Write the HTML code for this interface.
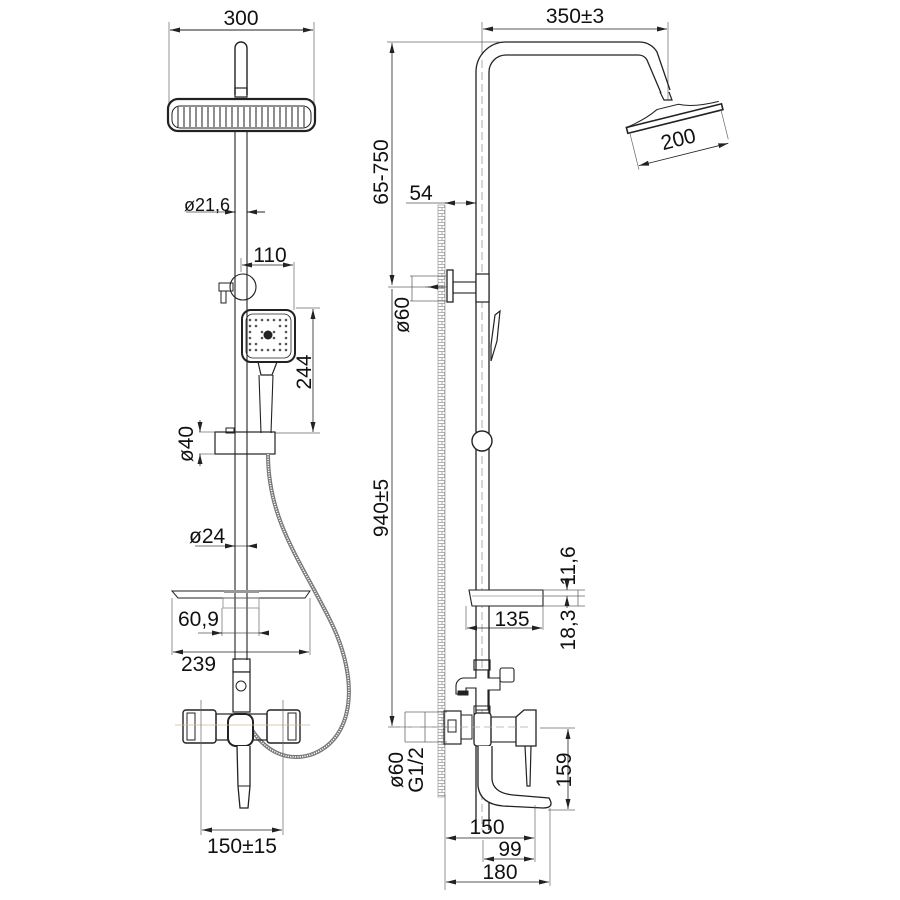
<!DOCTYPE html>
<html><head><meta charset="utf-8"><style>
html,body{margin:0;padding:0;background:#fff;}
svg{display:block;}
text{font-family:"Liberation Sans",sans-serif;fill:#111;}
</style></head><body>
<svg width="900" height="900" viewBox="0 0 900 900" xmlns="http://www.w3.org/2000/svg">
<defs>
<marker id="a" markerWidth="10" markerHeight="6" refX="10" refY="3" orient="auto-start-reverse" markerUnits="userSpaceOnUse"><path d="M0,0.5 L10,3 L0,5.5z" fill="#222"/></marker>
<pattern id="brick" width="7" height="6" patternUnits="userSpaceOnUse"><rect width="7" height="6" fill="#fff"/><path d="M0,0.5H7M3.5,0.5V3.5M0,3.5H7M1,3.5V6" stroke="#999" stroke-width="0.8" fill="none"/></pattern>
</defs>
<g stroke="#222" fill="none" stroke-width="1">
<!-- ============ LEFT VIEW ============ -->
<line x1="169" y1="22" x2="169" y2="104" stroke="#666" stroke-width="0.7"/>
<line x1="314" y1="22" x2="314" y2="104" stroke="#666" stroke-width="0.7"/>
<line x1="170" y1="30" x2="313" y2="30" marker-start="url(#a)" marker-end="url(#a)"/>
<path d="M235,95 V48 a6,6 0 0 1 12,0 V95" stroke-width="1.4"/>
<rect x="235" y="88" width="12" height="9" stroke-width="1.2"/>
<rect x="168" y="99" width="147" height="32" rx="10" stroke-width="2.2"/>
<rect x="172" y="106" width="139" height="22" rx="8" stroke-width="1"/>
<g stroke="#333" stroke-width="1.1">
<path d="M178,107v20M184,107v20M190,107v20M196,107v20M202,107v20M208,107v20M214,107v20M220,107v20M226,107v20M232,107v20M238,107v20M244,107v20M250,107v20M256,107v20M262,107v20M268,107v20M274,107v20M280,107v20M286,107v20M292,107v20M298,107v20M304,107v20"/>
</g>
<line x1="235" y1="131" x2="235" y2="660" stroke-width="1.1"/>
<line x1="247" y1="131" x2="247" y2="660" stroke-width="1.1"/>
<line x1="186" y1="212" x2="236" y2="212" stroke="#444" stroke-width="0.8"/>
<line x1="226" y1="212" x2="235" y2="212" marker-end="url(#a)"/>
<line x1="265" y1="212" x2="247" y2="212" marker-end="url(#a)"/>
<line x1="241" y1="258" x2="241" y2="272" stroke="#666" stroke-width="0.7"/>
<line x1="294" y1="262" x2="294" y2="310" stroke="#666" stroke-width="0.7"/>
<line x1="242" y1="265" x2="293" y2="265" marker-start="url(#a)" marker-end="url(#a)" stroke-width="0.8"/>
<circle cx="243" cy="287" r="13" stroke-width="1.1"/>
<rect x="219" y="283" width="14" height="8"/>
<rect x="221" y="291" width="5" height="12"/>
<rect x="242" y="310" width="53" height="52" rx="9" stroke-width="2"/>
<rect x="246" y="314" width="45" height="44" rx="7" stroke-width="0.8"/>
<g fill="#555" stroke="none">
<circle cx="250" cy="320" r="1.3"/><circle cx="256" cy="320" r="1.3"/><circle cx="262" cy="320" r="1.3"/><circle cx="268" cy="320" r="1.3"/><circle cx="274" cy="320" r="1.3"/><circle cx="280" cy="320" r="1.3"/><circle cx="286" cy="320" r="1.3"/>
<circle cx="250" cy="326" r="1.3"/><circle cx="256" cy="326" r="1.3"/><circle cx="280" cy="326" r="1.3"/><circle cx="286" cy="326" r="1.3"/>
<circle cx="250" cy="344" r="1.3"/><circle cx="256" cy="344" r="1.3"/><circle cx="280" cy="344" r="1.3"/><circle cx="286" cy="344" r="1.3"/>
<circle cx="250" cy="350" r="1.3"/><circle cx="256" cy="350" r="1.3"/><circle cx="262" cy="350" r="1.3"/><circle cx="268" cy="350" r="1.3"/><circle cx="274" cy="350" r="1.3"/><circle cx="280" cy="350" r="1.3"/><circle cx="286" cy="350" r="1.3"/>
<circle cx="250" cy="338" r="1.3"/><circle cx="250" cy="332" r="1.3"/><circle cx="286" cy="338" r="1.3"/><circle cx="286" cy="332" r="1.3"/>
<circle cx="262" cy="332" r="1.3"/><circle cx="274" cy="332" r="1.3"/><circle cx="262" cy="338" r="1.3"/><circle cx="274" cy="338" r="1.3"/>
<circle cx="268" cy="335" r="4.5" fill="#222"/>
</g>
<path d="M258,362 l3,13 h11 l5,-13" stroke-width="1.2"/>
<path d="M259,375 l2,58 M273,375 l-2,58" stroke-width="1.1"/>
<line x1="296" y1="308" x2="320" y2="308" stroke="#666" stroke-width="0.7"/>
<line x1="275" y1="433" x2="320" y2="433" stroke="#666" stroke-width="0.7"/>
<line x1="313" y1="309" x2="313" y2="432" marker-start="url(#a)" marker-end="url(#a)" stroke-width="0.8"/>
<rect x="215" y="432" width="60" height="22" stroke-width="1.2"/>
<rect x="226" y="428" width="8" height="5"/>
<line x1="199" y1="432" x2="215" y2="432" stroke="#666" stroke-width="0.7"/>
<line x1="199" y1="454" x2="215" y2="454" stroke="#666" stroke-width="0.7"/>
<line x1="200" y1="420" x2="200" y2="432" marker-end="url(#a)" stroke-width="0.8"/>
<line x1="200" y1="466" x2="200" y2="454" marker-end="url(#a)" stroke-width="0.8"/>
<path d="M268,454 C268,520 300,560 330,620 C360,680 355,740 310,755 C285,762 265,750 252,730" stroke="#777" stroke-width="4"/>
<path d="M268,454 C268,520 300,560 330,620 C360,680 355,740 310,755 C285,762 265,750 252,730" stroke="#fff" stroke-width="1.6" stroke-dasharray="1.2 1.2"/>
<line x1="195" y1="546" x2="256" y2="546" stroke="#444" stroke-width="0.8"/>
<line x1="225" y1="546" x2="235" y2="546" marker-end="url(#a)"/>
<line x1="256" y1="546" x2="247" y2="546" marker-end="url(#a)"/>
<path d="M172,591 H310 L305,598 H178 Z" stroke-width="1"/>
<rect x="224" y="590" width="35" height="3" fill="#999" stroke="none"/>
<rect x="223" y="598" width="36" height="10" stroke="#777" stroke-width="0.7"/>
<line x1="172" y1="598" x2="172" y2="655" stroke="#666" stroke-width="0.7"/>
<line x1="310" y1="598" x2="310" y2="655" stroke="#666" stroke-width="0.7"/>
<line x1="222" y1="608" x2="222" y2="636" stroke="#666" stroke-width="0.7"/>
<line x1="259" y1="608" x2="259" y2="636" stroke="#666" stroke-width="0.7"/>
<line x1="198" y1="633" x2="259" y2="633" stroke="#555" stroke-width="0.7"/>
<line x1="212" y1="633" x2="222" y2="633" marker-end="url(#a)"/>
<line x1="269" y1="633" x2="259" y2="633" marker-end="url(#a)"/>
<line x1="173" y1="652" x2="309" y2="652" marker-start="url(#a)" marker-end="url(#a)" stroke-width="0.8"/>
<rect x="233" y="659" width="17" height="13" stroke-width="1.2"/>
<rect x="233" y="672" width="17" height="40" fill="#fff" stroke-width="1.2"/>
<circle cx="241" cy="686" r="5"/>
<rect x="183" y="710" width="33" height="33" rx="3" stroke-width="1.4"/>
<rect x="187" y="713" width="8" height="27"/>
<rect x="267" y="710" width="33" height="33" rx="3" stroke-width="1.4"/>
<rect x="288" y="713" width="8" height="27"/>
<rect x="216" y="714" width="51" height="26" stroke-width="1.2"/>
<rect x="228" y="714" width="25" height="32" rx="8" fill="#fff" stroke-width="2"/>
<path d="M237,746 l1,40 l2,22 h8 l2,-22 v-40" fill="#fff" stroke-width="1.3"/>
<line x1="238" y1="786" x2="250" y2="786"/>
<line x1="175" y1="725" x2="310" y2="725" stroke="#d8b89a" stroke-width="0.8"/>
<line x1="201" y1="700" x2="201" y2="835" stroke="#666" stroke-width="0.7"/>
<line x1="283" y1="700" x2="283" y2="835" stroke="#666" stroke-width="0.7"/>
<line x1="202" y1="830" x2="282" y2="830" marker-start="url(#a)" marker-end="url(#a)" stroke-width="0.8"/>

<!-- ============ RIGHT VIEW ============ -->
<line x1="482" y1="22" x2="482" y2="55" stroke="#666" stroke-width="0.7"/>
<line x1="668" y1="22" x2="668" y2="100" stroke="#666" stroke-width="0.7"/>
<line x1="483" y1="29" x2="667" y2="29" marker-start="url(#a)" marker-end="url(#a)" stroke-width="0.8"/>
<path d="M476,830 V72 a30,30 0 0 1 30,-30 H640 a20,20 0 0 1 17,10 L670,90" stroke-width="1.3"/>
<path d="M489,830 V72 a17,17 0 0 1 17,-17 H638 a10,10 0 0 1 9,5 L661,93" stroke-width="1.3"/>
<line x1="482" y1="60" x2="482" y2="830" stroke="#888" stroke-width="0.7" stroke-dasharray="8 4"/>
<path d="M660,92 l4,8 h8 l-3,-8" stroke-width="1.2"/>
<g transform="translate(672,112) rotate(-14)">
<path d="M-48,4 q20,-3 34,-10 h22 q14,7 40,7" stroke-width="1"/>
<rect x="-48" y="4" width="98" height="6" stroke-width="1.6"/>
<line x1="-46" y1="10" x2="-46" y2="48" stroke="#666" stroke-width="0.7"/>
<line x1="48" y1="10" x2="48" y2="40" stroke="#666" stroke-width="0.7"/>
<line x1="-45" y1="44" x2="47" y2="44" marker-start="url(#a)" marker-end="url(#a)" stroke-width="0.8"/>
</g>
<line x1="387" y1="42" x2="500" y2="42" stroke="#666" stroke-width="0.7"/>
<line x1="392" y1="43" x2="392" y2="285" marker-start="url(#a)" marker-end="url(#a)" stroke-width="0.8"/>
<line x1="388" y1="287" x2="447" y2="287" stroke="#666" stroke-width="0.7"/>
<line x1="392" y1="289" x2="392" y2="726" marker-end="url(#a)" stroke-width="0.8"/>
<line x1="388" y1="727" x2="447" y2="727" stroke="#666" stroke-width="0.7"/>
<line x1="406" y1="203" x2="476" y2="203" stroke="#555" stroke-width="0.7"/>
<line x1="455" y1="203" x2="445" y2="203" marker-end="url(#a)"/>
<line x1="466" y1="203" x2="476" y2="203" marker-end="url(#a)"/>
<rect x="438" y="205" width="7" height="592" fill="url(#brick)" stroke="#999" stroke-width="0.7"/>
<line x1="445" y1="795" x2="445" y2="890" stroke="#666" stroke-width="0.7"/>
<rect x="447" y="270" width="6" height="32" stroke-width="1.3"/>
<rect x="453" y="282" width="23" height="11" stroke-width="1.1"/>
<rect x="476" y="274" width="13" height="28" fill="#fff" stroke-width="1.2"/>
<line x1="410" y1="276" x2="447" y2="276" stroke="#666" stroke-width="0.7"/>
<line x1="410" y1="301" x2="447" y2="301" stroke="#666" stroke-width="0.7"/>
<line x1="412" y1="276" x2="412" y2="301" stroke="#555" stroke-width="0.7"/>
<line x1="425" y1="287" x2="440" y2="287" stroke="#555" stroke-width="0.7"/>
<line x1="445" y1="287" x2="428" y2="287" marker-end="url(#a)"/>
<path d="M491,345 l4,-30 l5,-4 l-3,30 l-6,20 z" stroke-width="1.2"/>
<circle cx="482" cy="441" r="10" fill="#fff" stroke-width="1.4"/>
<path d="M469,590 H543 V606 H472 Z" fill="#fff" stroke-width="1.1"/>
<line x1="472" y1="596" x2="543" y2="596" stroke="#999" stroke-width="0.7"/>
<line x1="466" y1="606" x2="466" y2="630" stroke="#666" stroke-width="0.7"/>
<line x1="543" y1="606" x2="543" y2="630" stroke="#666" stroke-width="0.7"/>
<line x1="467" y1="628" x2="542" y2="628" marker-start="url(#a)" marker-end="url(#a)" stroke-width="0.7"/>
<line x1="543" y1="590" x2="585" y2="590" stroke="#666" stroke-width="0.7"/>
<line x1="543" y1="596" x2="585" y2="596" stroke="#666" stroke-width="0.7"/>
<line x1="543" y1="606" x2="585" y2="606" stroke="#666" stroke-width="0.7"/>
<line x1="567" y1="578" x2="567" y2="590" marker-end="url(#a)" stroke-width="0.7"/>
<line x1="567" y1="608" x2="567" y2="596" marker-end="url(#a)" stroke-width="0.7"/>
<line x1="578" y1="590" x2="578" y2="606" stroke="#555" stroke-width="0.7"/>
<rect x="474" y="660" width="16" height="10" stroke-width="1.2"/>
<path d="M476,670 v8 h-12 a8,8 0 0 0 -8,8 v8 h10 v-6 h10 v22 h12 v-20 h12 v-12 h-12 v-8 z" fill="#fff" stroke-width="1.1"/>
<rect x="458" y="691" width="10" height="4" fill="#222"/>
<rect x="500" y="668" width="14" height="14" rx="2" stroke-width="1.1"/>
<rect x="474" y="706" width="16" height="8"/>
<rect x="444" y="711" width="17" height="33" stroke-width="1.2"/>
<rect x="461" y="715" width="11" height="24"/>
<rect x="474" y="713" width="17" height="33" rx="3" fill="#fff" stroke-width="1.3"/>
<rect x="491" y="717" width="25" height="25" stroke-width="1.1"/>
<path d="M516,717 l8,-7 h12 v36 h-20 z" fill="#fff" stroke-width="1.3"/>
<path d="M525,746 l2,40 h3 l1,-40" stroke-width="1.2"/>
<path d="M478,746 v40 q2,18 25,20 l40,2 q12,0 6,-10 l-36,-3 q-20,-2 -21,-16 v-33" fill="#fff" stroke-width="1.3"/>
<line x1="400" y1="727" x2="530" y2="727" stroke="#aaa" stroke-width="0.7" stroke-dasharray="8 4"/>
<rect x="448" y="720" width="8" height="12"/>
<line x1="405" y1="712" x2="447" y2="712" stroke="#666" stroke-width="0.7"/>
<line x1="405" y1="742" x2="447" y2="742" stroke="#666" stroke-width="0.7"/>
<line x1="405" y1="712" x2="405" y2="742" stroke="#555" stroke-width="0.7"/>
<line x1="425" y1="712" x2="425" y2="742" stroke="#555" stroke-width="0.7"/>
<line x1="540" y1="728" x2="575" y2="728" stroke="#666" stroke-width="0.7"/>
<line x1="548" y1="810" x2="575" y2="810" stroke="#666" stroke-width="0.7"/>
<line x1="568" y1="729" x2="568" y2="809" marker-start="url(#a)" marker-end="url(#a)" stroke-width="0.8"/>
<line x1="535" y1="805" x2="535" y2="862" stroke="#666" stroke-width="0.7"/>
<line x1="483" y1="840" x2="483" y2="862" stroke="#666" stroke-width="0.7"/>
<line x1="550" y1="808" x2="550" y2="886" stroke="#666" stroke-width="0.7"/>
<line x1="446" y1="838" x2="534" y2="838" marker-start="url(#a)" marker-end="url(#a)" stroke-width="0.8"/>
<line x1="484" y1="859" x2="534" y2="859" marker-start="url(#a)" marker-end="url(#a)" stroke-width="0.8"/>
<line x1="446" y1="882" x2="549" y2="882" marker-start="url(#a)" marker-end="url(#a)" stroke-width="0.8"/>
</g>

<g font-size="21">
<text x="241" y="25" text-anchor="middle">300</text>
<text x="184" y="211" font-size="18">ø21,6</text>
<text x="270" y="262" text-anchor="middle">110</text>
<text transform="translate(311,372) rotate(-90)" text-anchor="middle">244</text>
<text transform="translate(193,444) rotate(-90)" text-anchor="middle">ø40</text>
<text x="189" y="543">ø24</text>
<text x="178" y="626">60,9</text>
<text x="181" y="671">239</text>
<text x="242" y="853" text-anchor="middle">150±15</text>
<text x="575" y="23" text-anchor="middle">350±3</text>
<text transform="translate(680,146) rotate(-14)" text-anchor="middle">200</text>
<text transform="translate(388,172) rotate(-90)" text-anchor="middle">65-750</text>
<text x="421" y="200" text-anchor="middle">54</text>
<text transform="translate(409,315) rotate(-90)" text-anchor="middle">ø60</text>
<text transform="translate(388,508) rotate(-90)" text-anchor="middle">940±5</text>
<text x="512" y="626" text-anchor="middle">135</text>
<text transform="translate(575,566) rotate(-90)" text-anchor="middle">11,6</text>
<text transform="translate(575,630) rotate(-90)" text-anchor="middle">18,3</text>
<text transform="translate(403,770) rotate(-90)" text-anchor="middle">ø60</text>
<text transform="translate(423,770) rotate(-90)" text-anchor="middle">G1/2</text>
<text transform="translate(571,770) rotate(-90)" text-anchor="middle">159</text>
<text x="487" y="834" text-anchor="middle">150</text>
<text x="510" y="856" text-anchor="middle">99</text>
<text x="500" y="879" text-anchor="middle">180</text>
</g>
</svg>
</body></html>
